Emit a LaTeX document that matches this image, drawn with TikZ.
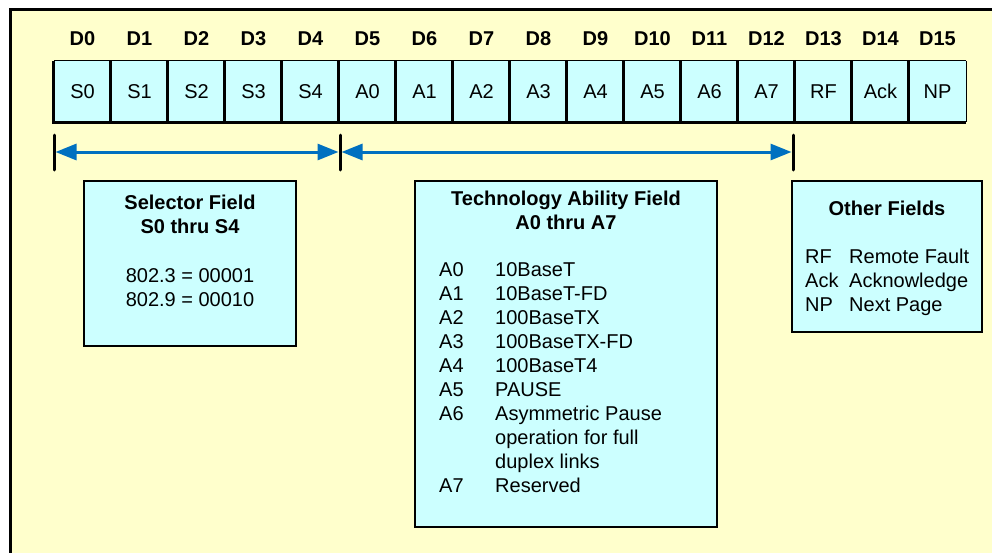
\documentclass[tikz,border=0pt]{standalone}
\usepackage{fontspec}
\setmainfont{Liberation Sans}
\usetikzlibrary{arrows.meta}
\definecolor{bgyellow}{HTML}{FFFFCC}
\definecolor{cellcyan}{HTML}{CCFFFF}
\definecolor{arrowblue}{HTML}{0070C0}
\begin{document}
\begin{tikzpicture}[x=1pt,y=-1pt,
  font=\fontsize{20}{24}\selectfont,
  txt/.style={inner sep=0pt, anchor=base, font=\fontsize{20}{24}\selectfont},
  txtw/.style={inner sep=0pt, anchor=base west, font=\fontsize{20}{24}\selectfont},
  bold/.style={inner sep=0pt, anchor=base, font=\fontsize{20}{24}\selectfont\bfseries},
  cell/.style={fill=cellcyan, draw=none, minimum width=57pt, minimum height=61pt, inner sep=0pt},
  box/.style={draw=black, fill=cellcyan, line width=2.5pt, inner sep=0pt},
  tickline/.style={black, line width=3pt, line cap=round},
  arr/.style={arrowblue, line width=3pt, shorten <=1.5pt, shorten >=1.5pt,
    {Triangle[length=21pt,width=16pt]}-{Triangle[length=21pt,width=16pt]}}]
\useasboundingbox (0,0) rectangle (992,552);
\clip (0,0) rectangle (992,552);
% background panel
\draw[fill=bgyellow, line width=3pt] (10.5,9.5) rectangle (1010,570);
% bit labels and cells
\foreach \i/\t in {0/S0,1/S1,2/S2,3/S3,4/S4,5/A0,6/A1,7/A2,8/A3,9/A4,10/A5,11/A6,12/A7,13/RF,14/Ack,15/NP}{
  \node[cell] (c\i) at ({82.5+57*\i},91.5) {\t};
  \node[bold, anchor=center] (d\i) at ({82.5+57*\i},38.5) {D\i};
}
\draw[black, line width=0.8pt] (c0.north west) -- (c15.north east);
\draw[black, line width=1.2pt] (c15.north east) -- (c15.south east);
\foreach \i in {0,...,15}{
  \draw[black, line width=3pt] (c\i.north west) -- ([yshift=-1.5pt]c\i.south west);
}
\draw[black, line width=3pt] (c0.south west) -- (c15.south east);
% range markers
\coordinate (k0) at (54,152);
\coordinate (k1) at (340,152);
\coordinate (k2) at (793,152);
\coordinate (k0t) at (54,135); \coordinate (k0b) at (54,170);
\coordinate (k1t) at (340,135); \coordinate (k1b) at (340,170);
\coordinate (k2t) at (793,135); \coordinate (k2b) at (793,170);
\draw[tickline] (k0t) -- (k0b);
\draw[tickline] (k1t) -- (k1b);
\draw[tickline] (k2t) -- (k2b);
\draw[arr] (k0) -- (k1);
\draw[arr] (k1) -- (k2);
% selector box
\node[box, minimum width=212pt, minimum height=165pt] (sel) at (190,263.5) {};
\node[bold] (selt1) at (190,209) {Selector Field};
\node[bold] (selt2) at (190,233) {S0 thru S4};
\node[txt] (sell1) at (190,282) {802.3 = 00001};
\node[txt] (sell2) at (190,306) {802.9 = 00010};
% technology box
\node[box, minimum width=302pt, minimum height=346pt] (tech) at (566,354) {};
\node[bold] (techt1) at (566,205) {Technology Ability Field};
\node[bold] (techt2) at (566,229) {A0 thru A7};
\foreach \n/\l in {0/A0,1/A1,2/A2,3/A3,4/A4,5/A5,6/A6,9/A7}{
  \node[txtw] (tl\n) at (439,{276+24*\n}) {\l};
}
\foreach \n/\d in {0/10BaseT,1/10BaseT-FD,2/100BaseTX,3/100BaseTX-FD,4/100BaseT4,5/PAUSE,6/Asymmetric Pause,7/operation for full,8/duplex links,9/Reserved}{
  \node[txtw] (td\n) at (495,{276+24*\n}) {\d};
}
% other fields box
\node[box, minimum width=190pt, minimum height=151pt] (oth) at (887,256.5) {};
\node[bold] (otht) at (887,215) {Other Fields};
\foreach \n/\l/\d in {0/RF/Remote Fault,1/Ack/Acknowledge,2/NP/Next Page}{
  \node[txtw] (ol\n) at (805,{263+24*\n}) {\l};
  \node[txtw] (od\n) at (849,{263+24*\n}) {\d};
}
\end{tikzpicture}
\end{document}
